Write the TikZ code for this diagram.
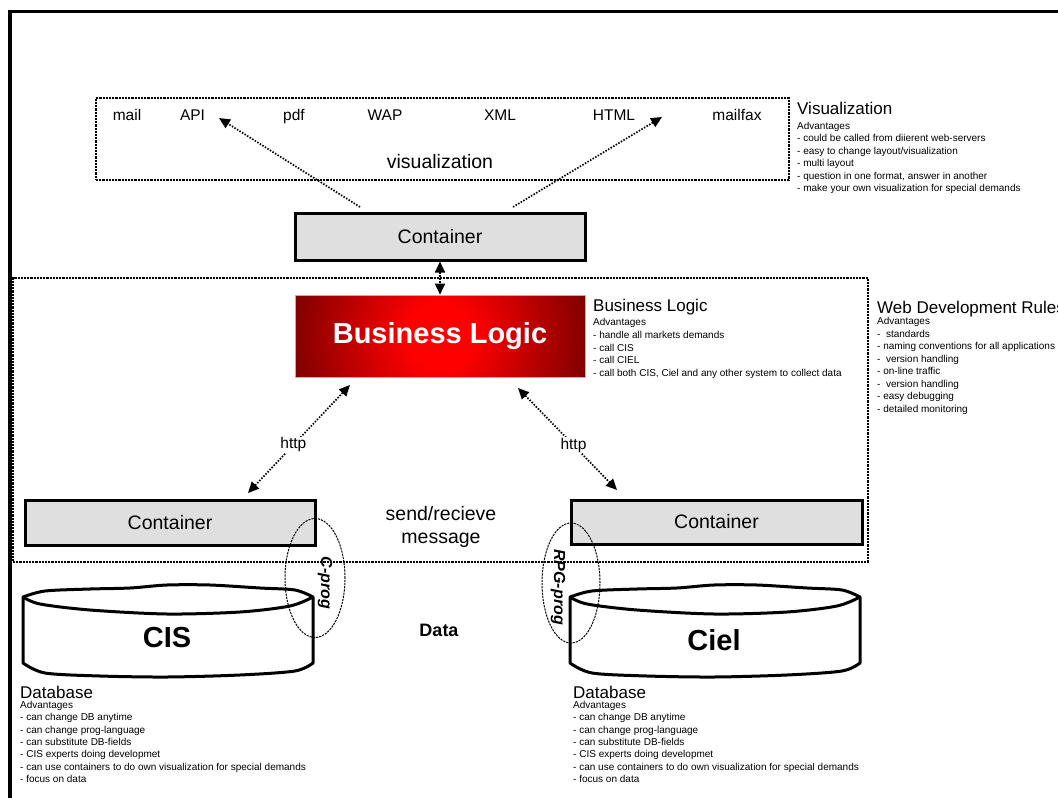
\documentclass[tikz,border=0pt]{standalone}
\usepackage{fontspec}
\setmainfont{Liberation Sans}
\usetikzlibrary{arrows.meta,shapes.geometric}
\newcommand\fsz[1]{\fontsize{#1}{#1}\selectfont}
\pgfdeclareradialshading{redglow}{\pgfpoint{0bp}{0bp}}{color(0bp)=(red); color(5bp)=(red); color(42bp)=(black); color(50bp)=(black)}
\newcommand\drawcyl[1]{%
 \begin{scope}[xshift=#1]
  \filldraw[fill=white, line width=3pt, line join=round]
    plot[smooth] coordinates {(23,597) (45,591) (90,589) (130,588) (167,585) (210,585) (260,588) (295,590) (313,597)}
    -- plot[smooth] coordinates {(313,663) (295,671) (240,675) (167,677) (100,676) (45,673) (23,663)} -- cycle;
  \draw[line width=3pt] plot[smooth] coordinates {(23,597) (40,604) (90,610) (167,614) (240,612) (290,606) (313,597)};
 \end{scope}}
\begin{document}
\begin{tikzpicture}[x=1pt,y=-1pt,
  contbox/.style={draw, line width=3pt, fill=gray!25, minimum width=290pt, inner sep=0pt, font=\fsz{19.5}},
  dashbox/.style={draw, line width=1.3pt, dash pattern=on 2.2pt off 1pt, inner sep=0pt},
  dotarr/.style={line width=1.7pt, dash pattern=on 1.5pt off 1.5pt, -{Triangle[length=11pt,width=10pt]}},
  dotarrb/.style={line width=1.7pt, dash pattern=on 1.5pt off 1.5pt, {Triangle[length=11pt,width=10pt]}-{Triangle[length=11pt,width=10pt]}},
  small/.style={anchor=base west, inner sep=0pt, font=\fsz{10}},
  ttl/.style={anchor=base west, inner sep=0pt, font=\fsz{17}},
  vitem/.style={anchor=base, inner sep=0pt, font=\fsz{15.5}},
  lbl/.style={fill=white, inner sep=1pt, font=\fsz{15.5}},
]
\useasboundingbox (0,0) rectangle (1058,798);
% outer frame
\draw[line width=3.5pt, line join=miter] (10,805) -- (10,11.5) -- (1065,11.5);

% visualization box
\node[dashbox, minimum width=693pt, minimum height=82pt] (vizbox) at (442.5,139) {};
\node[vitem] (mail) at (127,120.5) {mail};
\node[vitem] (api) at (192.5,120.5) {API};
\node[vitem] (pdf) at (294,120.5) {pdf};
\node[vitem] (wap) at (385,120.5) {WAP};
\node[vitem] (xml) at (500,120.5) {XML};
\node[vitem] (html) at (614,120.5) {HTML};
\node[vitem] (mailfax) at (737,120.5) {mailfax};
\node[anchor=base, inner sep=0pt, font=\fsz{19.5}] (vizlabel) at (440,168) {visualization};

% top container
\node[contbox, minimum height=47pt] (ctop) at (440,236.5) {Container};
\coordinate (a1s) at (360,207);
\coordinate (a1e) at (219,118);
\coordinate (a2s) at (513,207);
\coordinate (a2e) at (662,117);
\draw[dotarr] (a1s) -- (a1e);
\draw[dotarr] (a2s) -- (a2e);

% web development box
\node[dashbox, minimum width=855pt, minimum height=284pt] (webbox) at (440.5,420) {};

% business logic
\begin{scope}
\clip (295,295) rectangle (585,377);
\shade[shading=redglow] (440,336) circle (160pt);
\end{scope}
\node[draw=gray!60, line width=0.6pt, minimum width=290pt, minimum height=82pt, inner sep=0pt, text=white, font=\fsz{29}\bfseries] (bl) at (440,336) {Business Logic};
\draw[dotarrb] (ctop.south) -- (bl.north);

% lower containers
\node[contbox, minimum height=45pt] (cl) at (170,522.5) {Container};
\node[contbox, minimum width=291pt, minimum height=44pt] (cr) at (716.5,522) {Container};

\coordinate (h1a) at (350,385);
\coordinate (h1b) at (248,493);
\coordinate (h2a) at (518,388);
\coordinate (h2b) at (617,490);
\draw[dotarrb] (h1a) -- node[lbl, pos=0.555] (http1) {http} (h1b);
\draw[dotarrb] (h2a) -- node[lbl, pos=0.56] (http2) {http} (h2b);

\node[align=center, inner sep=0pt, font=\fontsize{19.5}{23}\selectfont] (sr) at (441,527) {send/recieve\\message};

% databases
\drawcyl{0}
\drawcyl{547}
\node[font=\fsz{29}\bfseries] (cis) at (167,638) {CIS};
\node[font=\fsz{29}\bfseries] (ciel) at (714,640) {Ciel};
\node[font=\fsz{18}\bfseries] (data) at (439,630) {Data};

% prog ellipses
\node[dashbox, line width=1pt, ellipse, minimum width=60pt, minimum height=119pt] (cprog) at (315,578) {};
\node[rotate=-90, inner sep=0pt, font=\fsz{16}\bfseries\itshape] (cprogt) at (325,583) {C-prog};
\node[dashbox, line width=1pt, ellipse, minimum width=58pt, minimum height=120pt] (rprog) at (571,583) {};
\node[rotate=-90, inner sep=0pt, font=\fsz{16}\bfseries\itshape] (rprogt) at (558,587) {RPG-prog};

% text blocks
\node[ttl] (vtitle) at (797,114) {Visualization};
\foreach \t [count=\i from 0] in {Advantages, {- could be called from diierent web-servers}, {- easy to change layout/visualization}, {- multi layout}, {- question in one format, answer in another}, {- make your own visualization for special demands}}
  \node[small] (vl\i) at (797,129.5+12.4*\i) {\t};

\node[ttl] (btitle) at (593,311) {Business Logic};
\foreach \t [count=\i from 0] in {Advantages, {- handle all markets demands}, {- call CIS}, {- call CIEL}, {- call both CIS, Ciel and any other system to collect data}}
  \node[small] (bll\i) at (593,325.5+12.8*\i) {\t};

\node[ttl] (wtitle) at (877,313) {Web Development Rules};
\foreach \t [count=\i from 0] in {Advantages, {-\ \ standards}, {- naming conventions for all applications}, {-\ \ version handling}, {- on-line traffic}, {-\ \ version handling}, {- easy debugging}, {- detailed monitoring}}
  \node[small] (wl\i) at (877,324.5+12.5*\i) {\t};

\foreach \x/\n in {20/da, 573/db}{
  \node[ttl] (\n title) at (\x,698) {Database};
  \foreach \t [count=\i from 0] in {Advantages, {- can change DB anytime}, {- can change prog-language}, {- can substitute DB-fields}, {- CIS experts doing developmet}, {- can use containers to do own visualization for special demands}, {- focus on data}}
    \node[small] (\n l\i) at (\x,708.5+12.35*\i) {\t};
}
\end{tikzpicture}
\end{document}
